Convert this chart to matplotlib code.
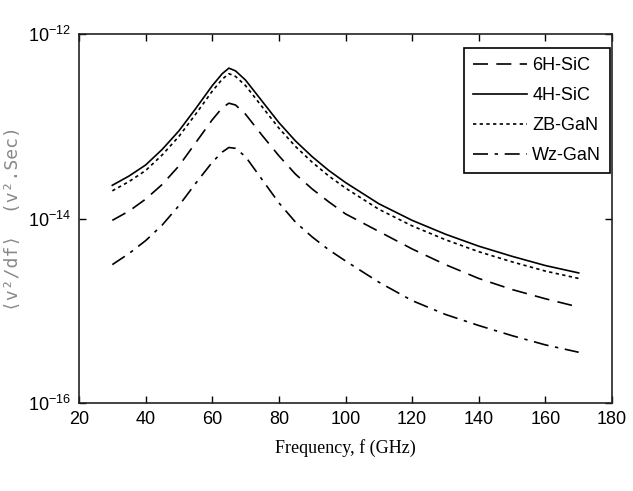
import numpy as np
import matplotlib
matplotlib.use("Agg")
import matplotlib.pyplot as plt

# frequency points (GHz)
freq = [30, 35, 40, 45, 50, 55, 60, 63, 65, 67, 70, 75, 80, 85, 90, 95,
        100, 110, 120, 130, 140, 150, 160, 170]

# log10 of noise spectral density <v^2/df> (V^2.s)
log_6h = [-14.02, -13.92, -13.79, -13.63, -13.43, -13.18, -12.93, -12.80, -12.75,
          -12.77, -12.87, -13.10, -13.32, -13.52, -13.68, -13.82, -13.95, -14.14,
          -14.33, -14.50, -14.65, -14.77, -14.87, -14.96]
log_4h = [-13.64, -13.54, -13.42, -13.25, -13.05, -12.81, -12.56, -12.43, -12.37,
          -12.40, -12.50, -12.73, -12.96, -13.16, -13.33, -13.48, -13.61, -13.84,
          -14.02, -14.17, -14.30, -14.41, -14.51, -14.59]
log_zb = [-13.70, -13.60, -13.48, -13.31, -13.11, -12.87, -12.62, -12.49, -12.43,
          -12.46, -12.56, -12.79, -13.02, -13.22, -13.39, -13.54, -13.67, -13.90,
          -14.08, -14.23, -14.36, -14.47, -14.57, -14.65]
log_wz = [-14.50, -14.38, -14.24, -14.07, -13.86, -13.62, -13.39, -13.28, -13.23,
          -13.24, -13.33, -13.58, -13.83, -14.04, -14.20, -14.34, -14.46, -14.69,
          -14.89, -15.04, -15.16, -15.27, -15.37, -15.45]

labels = ["6H-SiC", "4H-SiC", "ZB-GaN", "Wz-GaN"]

narrow = ["Liberation Sans Narrow", "Liberation Sans", "DejaVu Sans"]
plt.rcParams["font.family"] = narrow
plt.rcParams["mathtext.fontset"] = "custom"
plt.rcParams["mathtext.rm"] = "Liberation Sans"
plt.rcParams["mathtext.it"] = "Liberation Sans"
plt.rcParams["mathtext.bf"] = "Liberation Sans"

fig = plt.figure(figsize=(6.33, 4.91), dpi=100)
ax = fig.add_axes([79 / 633, 1 - 403 / 491, (612 - 79) / 633, (403 - 34) / 491])

f = np.array(freq)
ax.plot(f, 10 ** np.array(log_6h), color="black", lw=1.2, linestyle=(0, (9, 5)), label=labels[0])
ax.plot(f, 10 ** np.array(log_4h), color="black", lw=1.2, linestyle="-", label=labels[1])
ax.plot(f, 10 ** np.array(log_zb), color="black", lw=1.2, linestyle=(0, (2, 2)), label=labels[2])
ax.plot(f, 10 ** np.array(log_wz), color="black", lw=1.2, linestyle=(0, (9, 4, 2, 4)), label=labels[3])

ax.set_yscale("log")
ax.set_xlim(20, 180)
ax.set_ylim(1e-16, 1e-12)
ax.set_xticks(range(20, 181, 20))
ax.set_yticks([1e-16, 1e-14, 1e-12])
ax.minorticks_off()
ax.tick_params(direction="in", top=True, right=True, length=5, width=1,
               labelsize=13, pad=6)
for s in ax.spines.values():
    s.set_linewidth(1.2)
    s.set_color("#222222")

ax.set_xlabel("Frequency, f (GHz)", family=["Liberation Serif", "DejaVu Serif"],
              fontsize=13, labelpad=8)
ax.set_ylabel("\u27e8v\u00b2/df\u27e9  (v\u00b2.Sec)", family=["DejaVu Sans Mono"],
              fontsize=13, color="#888888", labelpad=4)

leg = ax.legend(loc="upper right", bbox_to_anchor=(0.997, 0.962), fontsize=13,
                fancybox=False, edgecolor="black", framealpha=1,
                handlelength=3.0, handletextpad=0.3, labelspacing=0.72,
                borderpad=0.5, borderaxespad=0.0)
leg.get_frame().set_linewidth(1.2)

fig.savefig("out.png", dpi=100)
